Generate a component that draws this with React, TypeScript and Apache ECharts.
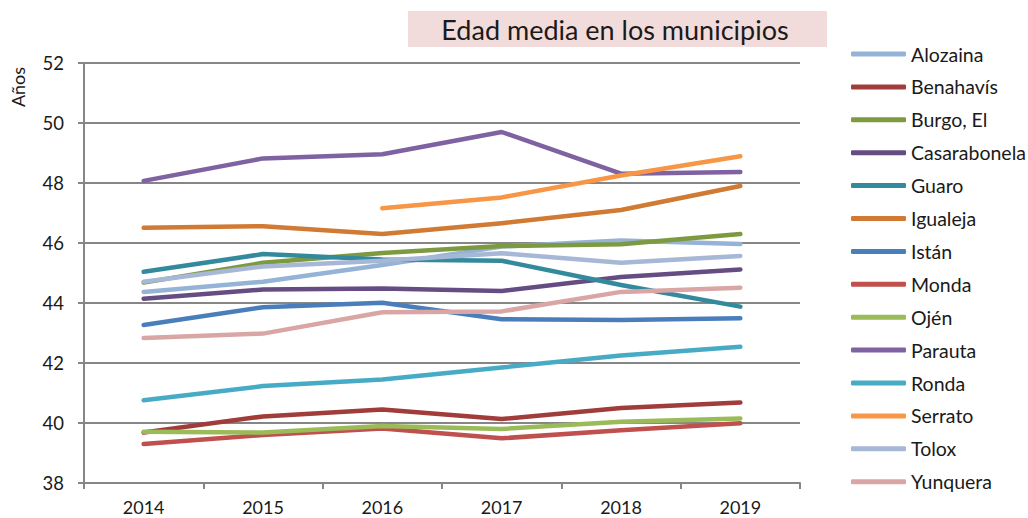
import React, { useEffect, useRef } from "react";
import * as echarts from "echarts";

const years = ["2014", "2015", "2016", "2017", "2018", "2019"];
const names = [
  "Alozaina", "Benahavís", "Burgo, El", "Casarabonela", "Guaro", "Igualeja", "Istán",
  "Monda", "Ojén", "Parauta", "Ronda", "Serrato", "Tolox", "Yunquera",
];
const alozaina = [44.37, 44.71, 45.27, 45.88, 46.08, 45.97];
const benahavis = [39.68, 40.22, 40.45, 40.13, 40.5, 40.68];
const burgo = [44.68, 45.34, 45.67, 45.9, 45.96, 46.3];
const casarabonela = [44.14, 44.45, 44.48, 44.4, 44.87, 45.12];
const guaro = [45.04, 45.63, 45.45, 45.41, 44.6, 43.88];
const igualeja = [46.51, 46.56, 46.3, 46.66, 47.1, 47.9];
const istan = [43.27, 43.86, 44.01, 43.46, 43.43, 43.49];
const monda = [39.3, 39.6, 39.82, 39.49, 39.76, 39.99];
const ojen = [39.71, 39.68, 39.9, 39.8, 40.04, 40.15];
const parauta = [48.07, 48.82, 48.96, 49.7, 48.31, 48.37];
const ronda = [40.76, 41.23, 41.45, 41.85, 42.25, 42.54];
const serrato = [null, null, 47.16, 47.52, 48.25, 48.89];
const tolox = [44.71, 45.22, 45.41, 45.66, 45.34, 45.57];
const yunquera = [42.83, 42.98, 43.69, 43.72, 44.37, 44.51];
const yTicks = [38, 40, 42, 44, 46, 48, 50, 52];

const values = [
  alozaina, benahavis, burgo, casarabonela, guaro, igualeja, istan,
  monda, ojen, parauta, ronda, serrato, tolox, yunquera,
];
const colors = [
  "#95B3D7", "#A03C3A", "#7D9A41", "#654C82", "#328A9C", "#D07A33", "#4A7EBB",
  "#C0504D", "#9BBB59", "#7F62A1", "#47ABC6", "#F79646", "#A7B7D6", "#D9A6A5",
];

const FONT = "Lato, 'Liberation Sans', sans-serif";
const TEXT = "#1a1a1a";

export default function App() {
  const ref = useRef<HTMLDivElement>(null);
  useEffect(() => {
    if (!ref.current) return;
    const chart = echarts.init(ref.current, undefined, { renderer: "svg" });
    chart.setOption({
      animation: false,
      backgroundColor: "#ffffff",
      graphic: [
        {
          type: "rect",
          left: 408,
          top: 11,
          shape: { width: 419, height: 36 },
          style: { fill: "#F2DCDB" },
          silent: true,
        },
        {
          type: "text",
          x: 615,
          y: 29,
          style: {
            text: "Edad media en los municipios",
            fontFamily: FONT,
            fontSize: 27,
            fill: TEXT,
            align: "center",
            verticalAlign: "middle",
          },
          silent: true,
        },
        {
          type: "text",
          x: 17.5,
          y: 87,
          rotation: Math.PI / 2,
          style: {
            text: "Años",
            fontFamily: FONT,
            fontSize: 18,
            fill: TEXT,
            align: "center",
            verticalAlign: "middle",
          },
          silent: true,
        },
      ],
      legend: {
        orient: "vertical",
        left: 851,
        top: 44,
        padding: 0,
        itemWidth: 55,
        itemHeight: 5,
        itemGap: 12.9,
        icon: "roundRect",
        textStyle: { fontFamily: FONT, fontSize: 19.5, color: TEXT, lineHeight: 20 },
        data: names,
      },
      grid: { left: 84, right: 228, top: 63, bottom: 35, outerBoundsMode: "none" },
      xAxis: {
        type: "category",
        data: years,
        boundaryGap: true,
        axisLine: { lineStyle: { color: "#868686", width: 2 } },
        axisTick: { show: true, length: 6, lineStyle: { color: "#868686", width: 2 } },
        axisLabel: { fontFamily: FONT, fontSize: 18, color: TEXT, margin: 15 },
      },
      yAxis: {
        type: "value",
        min: yTicks[0],
        max: yTicks[yTicks.length - 1],
        interval: 2,
        axisLine: { show: true, lineStyle: { color: "#868686", width: 2 } },
        axisTick: { show: true, length: 6, lineStyle: { color: "#868686", width: 2 } },
        axisLabel: { fontFamily: FONT, fontSize: 18.5, color: TEXT, margin: 20 },
        splitLine: { lineStyle: { color: "#868686", width: 2 } },
      },
      series: names.map((n, i) => ({
        name: n,
        type: "line",
        data: values[i],
        symbol: "none",
        connectNulls: false,
        color: colors[i],
        lineStyle: { width: 4.5, color: colors[i], cap: "round", join: "round" },
        itemStyle: { color: colors[i] },
      })),
    });
    return () => chart.dispose();
  }, []);
  return (
    <div
      ref={ref}
      style={{ position: "fixed", left: 0, top: 0, width: 1028, height: 518 }}
    />
  );
}
